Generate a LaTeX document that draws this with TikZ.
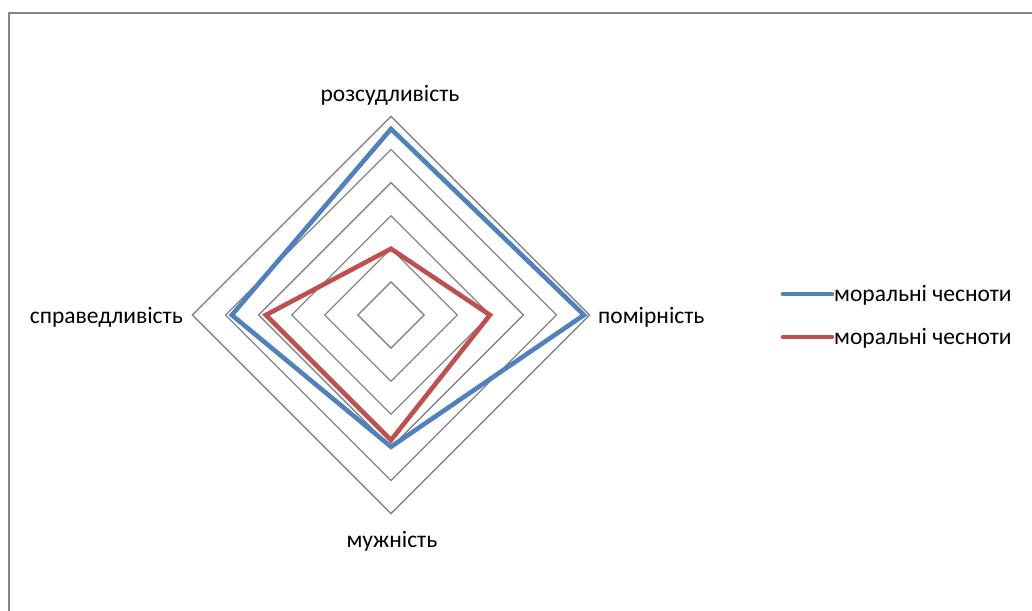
\documentclass[tikz,border=0pt]{standalone}
\usepackage{fontspec}
\setmainfont{Carlito}
\usetikzlibrary{calc}
\definecolor{serA}{HTML}{4F81BD}
\definecolor{serB}{HTML}{C0504D}
\definecolor{gridc}{HTML}{868686}
\begin{document}
\begin{tikzpicture}[x=1pt,y=-1pt,
  grid/.style={draw=gridc,line width=1.3pt},
  seriesA/.style={draw=serA,line width=4.6pt,line join=miter},
  seriesB/.style={draw=serB,line width=4.6pt,line join=miter},
  lbl/.style={font=\fontsize{23.5}{26}\selectfont,inner sep=0pt}]
\useasboundingbox (0,0) rectangle (1032,610);
\draw[draw=gridc,line width=1.8pt] (9,615) -- (9,13) -- (1040,13);
\coordinate (C) at (391,315);
\def\st{33.1}
\foreach \r in {1,...,6}{
  \draw[grid] ($(C)+(0,-\r*\st)$) -- ($(C)+(\r*\st,0)$) -- ($(C)+(0,\r*\st)$) -- ($(C)+(-\r*\st,0)$) -- cycle;
}
\draw[seriesA] ($(C)+(0,-5.62*\st)$) -- ($(C)+(5.83*\st,0)$) -- ($(C)+(0,3.98*\st)$) -- ($(C)+(-4.81*\st,0)$) -- cycle;
\draw[seriesB] ($(C)+(0,-2.0*\st)$) -- ($(C)+(2.99*\st,0)$) -- ($(C)+(0,3.78*\st)$) -- ($(C)+(-3.78*\st,0)$) -- cycle;
\node[lbl] (top) at (390,95) {розсудливість};
\node[lbl,anchor=east] (left) at (183,317) {справедливість};
\node[lbl,anchor=west] (right) at (598,317) {помірність};
\node[lbl] (bot) at (392,541) {мужність};
\coordinate (la1) at (783,294);
\coordinate (la2) at (832,294);
\coordinate (lb1) at (783,337);
\coordinate (lb2) at (832,337);
\draw[seriesA,line cap=round] (la1) -- (la2);
\draw[seriesB,line cap=round] (lb1) -- (lb2);
\node[lbl,anchor=west] (ta) at (834,295) {моральні чесноти};
\node[lbl,anchor=west] (tb) at (834,338) {моральні чесноти};
\end{tikzpicture}
\end{document}
